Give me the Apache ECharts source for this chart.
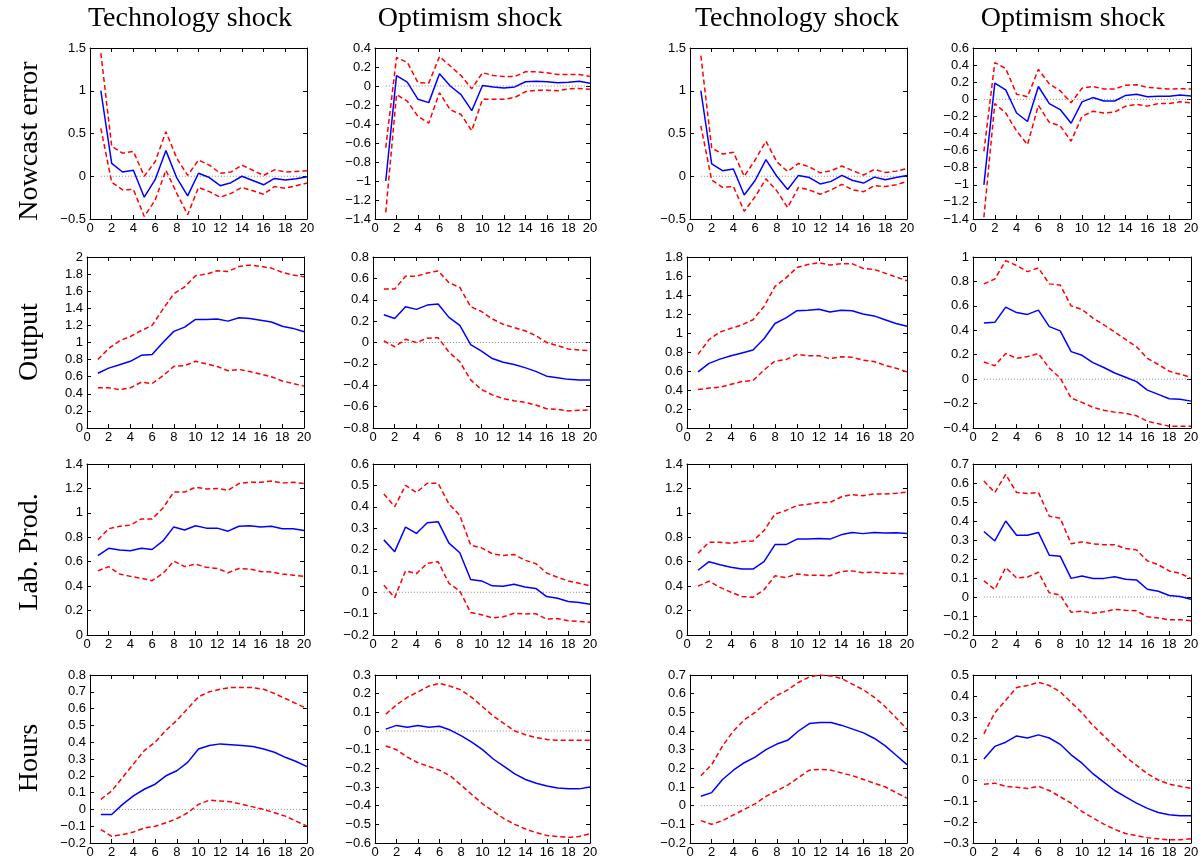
<!DOCTYPE html>
<html><head><meta charset="utf-8">
<script src="https://cdn.jsdelivr.net/npm/echarts@6/dist/echarts.min.js"></script>
<style>html,body{margin:0;padding:0;background:#fff}#c{width:1202px;height:862px}</style>
</head><body><div id="c"></div>
<script>
const horizon = [1,2,3,4,5,6,7,8,9,10,11,12,13,14,15,16,17,18,19,20];
const colTitles = ['Technology shock','Optimism shock','Technology shock','Optimism shock'];
const rowTitles = ['Nowcast error','Output','Lab. Prod.','Hours'];

// Row 1: Nowcast error
const nowTechA   = [1.0,0.15,0.05,0.07,-0.245,-0.04,0.30,-0.02,-0.23,0.035,-0.015,-0.11,-0.075,0.0,-0.05,-0.10,-0.025,-0.045,-0.03,-0.005];
const nowTechAHi = [1.44,0.35,0.27,0.29,0.0,0.17,0.52,0.21,0.01,0.19,0.13,0.035,0.05,0.13,0.07,0.01,0.075,0.05,0.055,0.065];
const nowTechALo = [0.56,-0.07,-0.16,-0.155,-0.47,-0.28,0.07,-0.2,-0.45,-0.13,-0.18,-0.245,-0.2,-0.13,-0.17,-0.21,-0.12,-0.14,-0.11,-0.08];
const nowOptA    = [-1.0,0.11,0.04,-0.14,-0.175,0.13,0.0,-0.09,-0.26,0.005,-0.01,-0.02,-0.01,0.045,0.05,0.045,0.035,0.04,0.05,0.03];
const nowOptAHi  = [-0.65,0.30,0.25,0.035,0.03,0.31,0.21,0.11,-0.03,0.14,0.11,0.10,0.10,0.15,0.15,0.14,0.12,0.12,0.12,0.10];
const nowOptALo  = [-1.33,-0.09,-0.16,-0.32,-0.39,-0.07,-0.25,-0.30,-0.47,-0.14,-0.14,-0.14,-0.12,-0.06,-0.045,-0.045,-0.05,-0.03,-0.025,-0.035];
const nowTechB   = [1.0,0.145,0.065,0.085,-0.22,-0.05,0.195,0.0,-0.155,0.01,-0.015,-0.09,-0.06,0.01,-0.05,-0.08,-0.01,-0.04,-0.015,0.01];
const nowTechBHi = [1.41,0.33,0.26,0.28,0.0,0.19,0.41,0.17,0.055,0.15,0.11,0.04,0.065,0.12,0.065,0.015,0.08,0.045,0.06,0.09];
const nowTechBLo = [0.59,-0.045,-0.13,-0.12,-0.41,-0.24,-0.03,-0.17,-0.365,-0.13,-0.16,-0.21,-0.16,-0.095,-0.16,-0.18,-0.11,-0.12,-0.1,-0.06];
const nowOptB    = [-1.0,0.19,0.11,-0.16,-0.26,0.15,-0.05,-0.12,-0.28,-0.03,0.02,-0.02,-0.02,0.045,0.06,0.03,0.035,0.035,0.05,0.04];
const nowOptBHi  = [-0.61,0.43,0.36,0.06,0.03,0.35,0.18,0.10,-0.04,0.13,0.15,0.12,0.12,0.165,0.17,0.14,0.13,0.12,0.125,0.12];
const nowOptBLo  = [-1.38,-0.05,-0.16,-0.37,-0.53,-0.07,-0.27,-0.31,-0.49,-0.2,-0.14,-0.16,-0.15,-0.08,-0.06,-0.08,-0.05,-0.05,-0.03,-0.04];

// Row 2: Output
const outTechA   = [0.64,0.70,0.74,0.78,0.85,0.86,1.0,1.13,1.18,1.27,1.27,1.275,1.25,1.29,1.28,1.26,1.24,1.19,1.165,1.125];
const outTechAHi = [0.80,0.93,1.02,1.07,1.14,1.2,1.39,1.57,1.65,1.78,1.80,1.84,1.83,1.89,1.905,1.89,1.87,1.82,1.79,1.77];
const outTechALo = [0.47,0.47,0.45,0.47,0.535,0.52,0.61,0.72,0.73,0.78,0.75,0.72,0.67,0.685,0.66,0.63,0.60,0.55,0.52,0.49];
const outOptA    = [0.26,0.225,0.335,0.31,0.35,0.36,0.235,0.16,-0.02,-0.08,-0.15,-0.185,-0.205,-0.235,-0.27,-0.315,-0.33,-0.345,-0.35,-0.35];
const outOptAHi  = [0.50,0.50,0.62,0.62,0.65,0.67,0.56,0.515,0.335,0.29,0.22,0.17,0.14,0.11,0.065,0.0,-0.03,-0.06,-0.07,-0.075];
const outOptALo  = [0.015,-0.04,0.03,0.0,0.04,0.045,-0.09,-0.18,-0.35,-0.44,-0.49,-0.525,-0.545,-0.56,-0.585,-0.62,-0.625,-0.64,-0.635,-0.63];
const outTechB   = [0.59,0.68,0.725,0.76,0.79,0.82,0.94,1.10,1.16,1.235,1.24,1.25,1.22,1.24,1.235,1.2,1.18,1.14,1.10,1.07];
const outTechBHi = [0.775,0.93,1.01,1.05,1.085,1.14,1.28,1.49,1.58,1.69,1.72,1.74,1.715,1.73,1.73,1.68,1.67,1.63,1.59,1.55];
const outTechBLo = [0.405,0.42,0.43,0.46,0.49,0.50,0.61,0.705,0.72,0.775,0.76,0.76,0.73,0.75,0.745,0.715,0.70,0.66,0.63,0.59];
const outOptB    = [0.46,0.465,0.59,0.545,0.53,0.565,0.43,0.395,0.225,0.195,0.135,0.095,0.05,0.015,-0.02,-0.09,-0.125,-0.16,-0.165,-0.18];
const outOptBHi  = [0.78,0.82,0.97,0.93,0.88,0.91,0.78,0.77,0.60,0.57,0.50,0.445,0.385,0.325,0.265,0.17,0.12,0.065,0.04,0.015];
const outOptBLo  = [0.14,0.11,0.21,0.17,0.185,0.21,0.09,0.01,-0.155,-0.19,-0.23,-0.255,-0.27,-0.28,-0.30,-0.345,-0.365,-0.385,-0.385,-0.385];

// Row 3: Labour productivity
const labTechA   = [0.65,0.71,0.695,0.69,0.71,0.70,0.77,0.885,0.86,0.895,0.875,0.875,0.85,0.89,0.895,0.885,0.89,0.87,0.87,0.855];
const labTechAHi = [0.78,0.87,0.89,0.90,0.95,0.95,1.04,1.17,1.17,1.21,1.195,1.20,1.185,1.24,1.25,1.25,1.26,1.245,1.25,1.24];
const labTechALo = [0.525,0.56,0.50,0.48,0.465,0.445,0.505,0.605,0.56,0.58,0.555,0.545,0.51,0.545,0.54,0.52,0.515,0.50,0.49,0.48];
const labOptA    = [0.245,0.19,0.305,0.275,0.325,0.33,0.23,0.185,0.06,0.053,0.03,0.028,0.037,0.025,0.018,-0.02,-0.028,-0.043,-0.048,-0.056];
const labOptAHi  = [0.46,0.40,0.50,0.467,0.51,0.51,0.413,0.36,0.22,0.208,0.18,0.172,0.177,0.15,0.134,0.09,0.07,0.053,0.042,0.03];
const labOptALo  = [0.033,-0.025,0.10,0.087,0.135,0.143,0.042,0.006,-0.095,-0.105,-0.12,-0.115,-0.098,-0.102,-0.1,-0.126,-0.123,-0.133,-0.137,-0.14];
const labTechB   = [0.53,0.60,0.575,0.555,0.54,0.54,0.60,0.74,0.74,0.785,0.785,0.79,0.785,0.82,0.84,0.83,0.84,0.835,0.837,0.83];
const labTechBHi = [0.67,0.76,0.76,0.75,0.765,0.77,0.855,0.99,1.02,1.06,1.07,1.085,1.085,1.13,1.15,1.14,1.155,1.155,1.16,1.17];
const labTechBLo = [0.40,0.44,0.39,0.35,0.315,0.31,0.37,0.485,0.47,0.50,0.49,0.49,0.485,0.52,0.525,0.51,0.515,0.505,0.505,0.50];
const labOptB    = [0.345,0.295,0.40,0.325,0.325,0.34,0.22,0.215,0.098,0.11,0.097,0.098,0.107,0.093,0.09,0.041,0.03,0.008,0.003,-0.012];
const labOptBHi  = [0.61,0.55,0.645,0.55,0.545,0.55,0.425,0.415,0.28,0.29,0.28,0.275,0.275,0.255,0.248,0.19,0.17,0.137,0.125,0.097];
const labOptBLo  = [0.085,0.04,0.155,0.10,0.105,0.13,0.022,0.01,-0.08,-0.075,-0.085,-0.078,-0.065,-0.07,-0.073,-0.104,-0.11,-0.12,-0.12,-0.125];

// Row 4: Hours
const hrsTechA   = [-0.03,-0.03,0.03,0.08,0.12,0.15,0.2,0.23,0.28,0.36,0.38,0.39,0.385,0.38,0.375,0.36,0.34,0.31,0.285,0.255];
const hrsTechAHi = [0.06,0.11,0.19,0.27,0.35,0.40,0.47,0.53,0.6,0.67,0.7,0.715,0.725,0.725,0.725,0.715,0.69,0.66,0.63,0.6];
const hrsTechALo = [-0.12,-0.16,-0.15,-0.135,-0.11,-0.1,-0.08,-0.055,-0.02,0.03,0.055,0.05,0.045,0.03,0.015,0.0,-0.02,-0.04,-0.07,-0.1];
const hrsOptA    = [0.01,0.03,0.02,0.03,0.02,0.025,0.005,-0.025,-0.06,-0.1,-0.15,-0.19,-0.23,-0.26,-0.28,-0.295,-0.305,-0.31,-0.31,-0.3];
const hrsOptAHi  = [0.09,0.14,0.18,0.21,0.24,0.255,0.24,0.22,0.18,0.13,0.08,0.04,0.0,-0.02,-0.035,-0.045,-0.05,-0.05,-0.05,-0.05];
const hrsOptALo  = [-0.08,-0.1,-0.14,-0.17,-0.19,-0.21,-0.24,-0.29,-0.34,-0.39,-0.43,-0.47,-0.5,-0.525,-0.545,-0.56,-0.565,-0.57,-0.565,-0.55];
const hrsTechB   = [0.05,0.07,0.14,0.19,0.23,0.26,0.30,0.33,0.35,0.40,0.44,0.445,0.445,0.43,0.41,0.39,0.36,0.32,0.27,0.22];
const hrsTechBHi = [0.16,0.22,0.32,0.40,0.46,0.50,0.55,0.59,0.62,0.66,0.69,0.70,0.695,0.68,0.65,0.62,0.58,0.53,0.47,0.41];
const hrsTechBLo = [-0.08,-0.1,-0.08,-0.05,-0.02,0.01,0.05,0.08,0.11,0.15,0.19,0.195,0.19,0.175,0.16,0.14,0.12,0.1,0.07,0.04];
const hrsOptB    = [0.10,0.16,0.18,0.21,0.20,0.215,0.20,0.17,0.12,0.08,0.03,-0.01,-0.05,-0.08,-0.11,-0.135,-0.155,-0.165,-0.17,-0.17];
const hrsOptBHi  = [0.22,0.32,0.38,0.44,0.45,0.465,0.45,0.42,0.37,0.32,0.26,0.21,0.16,0.11,0.07,0.03,0.0,-0.02,-0.03,-0.04];
const hrsOptBLo  = [-0.02,-0.015,-0.03,-0.035,-0.04,-0.03,-0.05,-0.08,-0.11,-0.15,-0.18,-0.21,-0.235,-0.255,-0.265,-0.275,-0.28,-0.285,-0.285,-0.28];

// Axis ticks: [min, max, step]
const yTicksNow = [[-0.5,1.5,0.5],[-1.4,0.4,0.2],[-0.5,1.5,0.5],[-1.4,0.6,0.2]];
const yTicksOut = [[0,2,0.2],[-0.8,0.8,0.2],[0,1.8,0.2],[-0.4,1,0.2]];
const yTicksLab = [[0,1.4,0.2],[-0.2,0.6,0.1],[0,1.4,0.2],[-0.2,0.7,0.1]];
const yTicksHrs = [[-0.2,0.8,0.1],[-0.6,0.3,0.1],[-0.2,0.7,0.1],[-0.3,0.5,0.1]];
const xTicks = [0,20,2];

const panelData = [
  [[nowTechA,nowTechAHi,nowTechALo],[nowOptA,nowOptAHi,nowOptALo],[nowTechB,nowTechBHi,nowTechBLo],[nowOptB,nowOptBHi,nowOptBLo]],
  [[outTechA,outTechAHi,outTechALo],[outOptA,outOptAHi,outOptALo],[outTechB,outTechBHi,outTechBLo],[outOptB,outOptBHi,outOptBLo]],
  [[labTechA,labTechAHi,labTechALo],[labOptA,labOptAHi,labOptALo],[labTechB,labTechBHi,labTechBLo],[labOptB,labOptBHi,labOptBLo]],
  [[hrsTechA,hrsTechAHi,hrsTechALo],[hrsOptA,hrsOptAHi,hrsOptALo],[hrsTechB,hrsTechBHi,hrsTechBLo],[hrsOptB,hrsOptBHi,hrsOptBLo]]
];
const yTicks = [yTicksNow,yTicksOut,yTicksLab,yTicksHrs];

// layout
const rowTop = [48,257,464,675];
const rowH = [171,171,171,168];
const colLeft = [[90,375,690,973],[87,373,687,973],[87,373,687,973],[90,375,690,973]];
const colW = [[217,215,217,218],[217,217,220,218],[217,217,220,218],[217,215,217,218]];

const fmt = v => String(+v.toFixed(2)).replace('-', '\u2212');
const labelStyle = {color:'#000', fontFamily:'Liberation Sans, Arial, sans-serif', fontSize:13};
const toPts = ys => ys.map((y,i)=>[horizon[i], y]);

const grid=[], xAxis=[], yAxis=[], series=[];
for (let r=0;r<4;r++){
  for (let c=0;c<4;c++){
    const gi = grid.length;
    grid.push({left:colLeft[r][c], top:rowTop[r], width:colW[r][c], height:rowH[r], show:false});
    const tick = {show:true, inside:true, length:4, lineStyle:{color:'#000', width:1}};
    const line = {show:true, onZero:false, lineStyle:{color:'#000', width:1}};
    xAxis.push({gridIndex:gi, type:'value', position:'bottom', min:xTicks[0], max:xTicks[1], interval:xTicks[2],
      axisLine:line, axisTick:tick, splitLine:{show:false},
      axisLabel:Object.assign({margin:3, formatter:fmt}, labelStyle)});
    xAxis.push({gridIndex:gi, type:'value', position:'top', min:xTicks[0], max:xTicks[1], interval:xTicks[2],
      axisLine:line, axisTick:tick, splitLine:{show:false}, axisLabel:{show:false}});
    const yt = yTicks[r][c];
    yAxis.push({gridIndex:gi, type:'value', position:'left', min:yt[0], max:yt[1], interval:yt[2],
      axisLine:line, axisTick:tick, splitLine:{show:false},
      axisLabel:Object.assign({margin:4, formatter:fmt}, labelStyle)});
    yAxis.push({gridIndex:gi, type:'value', position:'right', min:yt[0], max:yt[1], interval:yt[2],
      axisLine:line, axisTick:tick, splitLine:{show:false}, axisLabel:{show:false}});
    const xi = gi*2, yi = gi*2;
    const d = panelData[r][c];
    if (yt[0] < 0) {
      series.push({type:'line', xAxisIndex:xi, yAxisIndex:yi, data:[[horizon[0],0],[horizon[horizon.length-1],0]],
        symbol:'none', silent:true, lineStyle:{color:'#888', width:1, type:[1,2]}});
    }
    series.push({type:'line', xAxisIndex:xi, yAxisIndex:yi, data:toPts(d[1]), symbol:'none',
      lineStyle:{color:'#ff0000', width:1.5, type:[5,3]}});
    series.push({type:'line', xAxisIndex:xi, yAxisIndex:yi, data:toPts(d[2]), symbol:'none',
      lineStyle:{color:'#ff0000', width:1.5, type:[5,3]}});
    series.push({type:'line', xAxisIndex:xi, yAxisIndex:yi, data:toPts(d[0]), symbol:'none',
      lineStyle:{color:'#0000ff', width:1.5}});
  }
}

const titleX = [190,470,797,1073];
const rowY = [141,342,552,758];
const graphic = [];
colTitles.forEach((t,i)=>graphic.push({type:'text', x:titleX[i], y:19,
  style:{text:t, fill:'#000', font:'28px "Liberation Serif", "DejaVu Serif", serif', textAlign:'center', textVerticalAlign:'middle'}}));
rowTitles.forEach((t,i)=>graphic.push({type:'text', x:30, y:rowY[i], rotation:Math.PI/2,
  style:{text:t, fill:'#000', font:'28px "Liberation Serif", "DejaVu Serif", serif', textAlign:'center', textVerticalAlign:'middle'}}));

const chart = echarts.init(document.getElementById('c'), null, {renderer:'canvas'});
chart.setOption({animation:false, backgroundColor:'#fff', grid, xAxis, yAxis, series, graphic});
</script></body></html>
